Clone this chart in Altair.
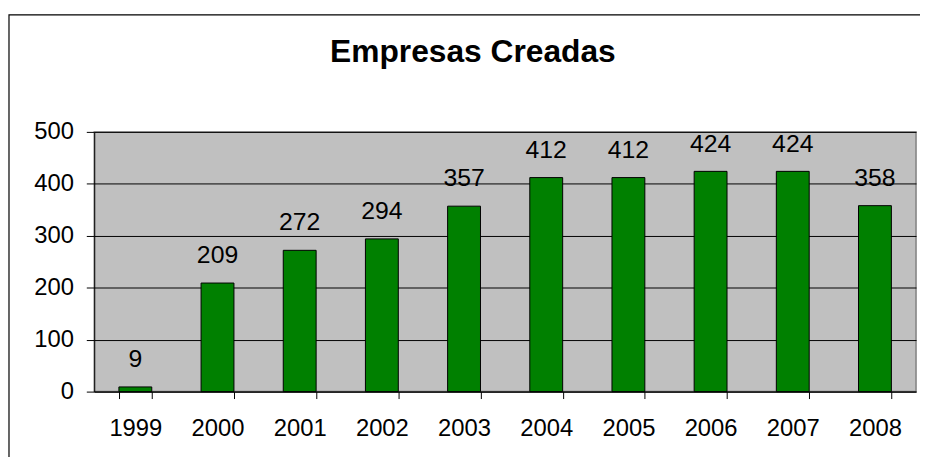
import altair as alt
import pandas as pd

years = ["1999", "2000", "2001", "2002", "2003", "2004", "2005", "2006", "2007", "2008"]
empresas = [9, 209, 272, 294, 357, 412, 412, 424, 424, 358]
y_ticks = [0, 100, 200, 300, 400, 500]
title_text = "Empresas Creadas"

df = pd.DataFrame({"year": years, "value": empresas})

FONT = "Liberation Sans"

x_enc = alt.X("year:N", sort=years, title=None,
              scale=alt.Scale(paddingInner=0.6, paddingOuter=0.3),
              axis=alt.Axis(labelAngle=0, labelFontSize=24, labelFont=FONT, labelColor="black",
                            tickBand="extent", tickSize=7, tickColor="black",
                            domainColor="black", labelPadding=18))
y_enc = alt.Y("value:Q", title=None,
              scale=alt.Scale(domain=[0, 500], nice=False),
              axis=alt.Axis(values=y_ticks, labelFontSize=24, labelFont=FONT, labelColor="black",
                            tickSize=8, tickColor="black", domainColor="black",
                            grid=True, gridColor="black", gridOpacity=1, labelPadding=13))

base = alt.Chart(df)

bars = base.mark_bar(color="#008000", stroke="black", strokeWidth=1).encode(x=x_enc, y=y_enc)
labels = base.mark_text(baseline="alphabetic", dy=-20, fontSize=25, font=FONT, color="black").encode(
    x=alt.X("year:N", sort=years), y="value:Q", text="value:Q")

one = pd.DataFrame({"a": [0]})
border = alt.Chart(one).mark_rect(filled=False, stroke="black", strokeWidth=1.2).encode(
    x=alt.value(-86), x2=alt.value(900), y=alt.value(-118), y2=alt.value(400))
title = alt.Chart(one).mark_text(fontSize=32, font=FONT, fontWeight="bold", color="black",
                                 baseline="alphabetic", align="center").encode(
    x=alt.value(382), y=alt.value(-70), text=alt.value(title_text))

chart = alt.layer(border, bars, labels, title).properties(
    width=829, height=262,
    autosize=alt.AutoSizeParams(type="none"),
    padding={"left": 87, "top": 123, "right": 4, "bottom": 64},
).configure_view(fill="#C0C0C0", stroke="#808080", strokeWidth=1.5)

chart.save("out.html", embed_options={"renderer": "svg", "actions": False})
